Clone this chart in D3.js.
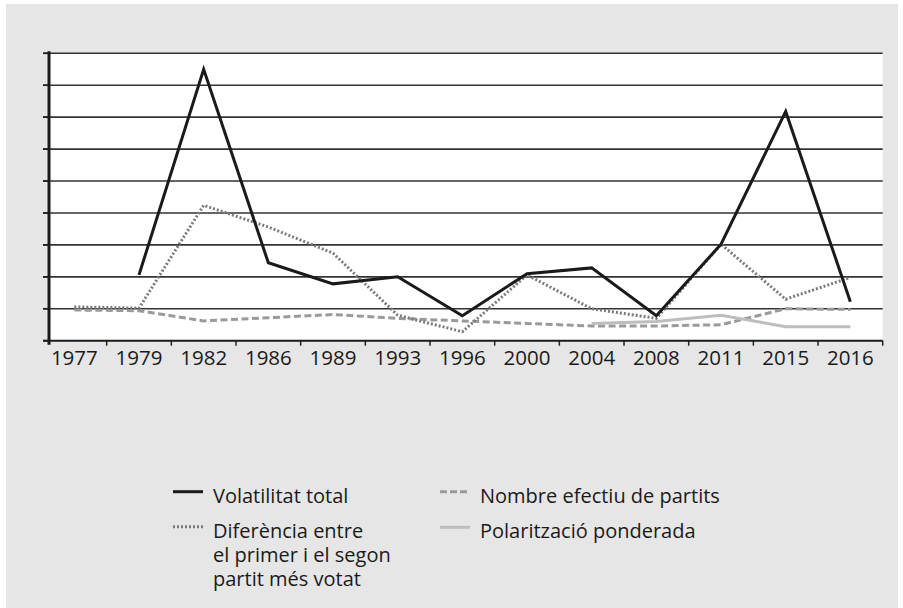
<!DOCTYPE html>
<html>
<head>
<meta charset="utf-8">
<script src="https://cdn.jsdelivr.net/npm/d3@7"></script>
<style>
  body { margin: 0; background: #fff; }
  text { font-family: "Open Sans", sans-serif; fill: #1a1a1a; }
</style>
</head>
<body>
<div id="chart"></div>
<script>
// data
const years = ["1977", "1979", "1982", "1986", "1989", "1993", "1996", "2000", "2004", "2008", "2011", "2015", "2016"];
const volatilitat = [null, 10.3, 42.5, 12.2, 8.9, 10.0, 3.9, 10.5, 11.4, 3.9, 15.1, 35.9, 6.1];
const diferencia = [5.3, 5.1, 21.2, 17.8, 13.7, 4.0, 1.4, 10.3, 5.0, 3.5, 15.1, 6.5, 9.9];
const nombreEfectiu = [4.8, 4.7, 3.1, 3.6, 4.1, 3.5, 3.1, 2.7, 2.3, 2.3, 2.5, 5.0, 4.9];
const polaritzacio = [null, null, null, null, null, null, null, null, 2.7, 3.0, 4.0, 2.2, 2.2];
const gridValues = [0, 5, 10, 15, 20, 25, 30, 35, 40, 45];

//set dimensions
const width = 903,
    height = 608;

const svg = d3.select("#chart")
    .append("svg")
    .attr("width", width)
    .attr("height", height);

// grey panel
svg.append("rect")
    .attr("x", 6).attr("y", 4)
    .attr("width", 892).attr("height", 604)
    .attr("fill", "#e6e6e6");

// scales
const xScale = d3.scaleBand()
    .domain(years)
    .range([42, 882.7]);

const yScale = d3.scaleLinear()
    .domain([0, 45])
    .range([340.7, 53.3]);

const axisX = 49;

// plot background
svg.append("rect")
    .attr("x", axisX)
    .attr("y", yScale(45))
    .attr("width", 882.7 - axisX)
    .attr("height", yScale(0) - yScale(45))
    .attr("fill", "#fff");

// gridlines
svg.append("g")
    .selectAll("line")
    .data(gridValues.slice(1))
    .enter()
    .append("line")
    .attr("x1", 43)
    .attr("x2", 882.7)
    .attr("y1", d => yScale(d))
    .attr("y2", d => yScale(d))
    .attr("stroke", "#333")
    .attr("stroke-width", 1.6);

// x axis
const xAxis = d3.axisBottom(xScale)
    .tickSize(0)
    .tickPadding(0);
const gx = svg.append("g")
    .attr("transform", "translate(0," + yScale(0) + ")")
    .call(xAxis);
gx.select(".domain").remove();
gx.selectAll("text")
    .attr("y", 24)
    .attr("dy", 0)
    .style("font-size", "20.5px")
    .attr("fill", "#1a1a1a");

// tick marks between categories
gx.append("g")
    .selectAll("line")
    .data(years.slice(1).concat(["end"]))
    .enter()
    .append("line")
    .attr("x1", d => d === "end" ? xScale.range()[1] : xScale(d))
    .attr("x2", d => d === "end" ? xScale.range()[1] : xScale(d))
    .attr("y1", 0)
    .attr("y2", 5)
    .attr("stroke", "#222")
    .attr("stroke-width", 1.5);

svg.append("line")
    .attr("x1", 43).attr("x2", 882.7)
    .attr("y1", yScale(0)).attr("y2", yScale(0))
    .attr("stroke", "#1a1a1a")
    .attr("stroke-width", 2);

// y axis
svg.append("g")
    .selectAll("line")
    .data(gridValues)
    .enter()
    .append("line")
    .attr("x1", 43)
    .attr("x2", axisX)
    .attr("y1", d => yScale(d))
    .attr("y2", d => yScale(d))
    .attr("stroke", "#1a1a1a")
    .attr("stroke-width", 1.6);

svg.append("line")
    .attr("x1", axisX).attr("x2", axisX)
    .attr("y1", yScale(45) - 2).attr("y2", yScale(0) + 4)
    .attr("stroke", "#1a1a1a")
    .attr("stroke-width", 3);

// series
const series = [
    { values: nombreEfectiu, color: "#9a9a9a", dash: "7,3.5" },
    { values: polaritzacio, color: "#bdbdbd", dash: null },
    { values: diferencia, color: "#7a7a7a", dash: "2,2" },
    { values: volatilitat, color: "#1a1a1a", dash: null }
];

const line = d3.line()
    .defined(d => d.v !== null)
    .x(d => xScale(d.year) + xScale.bandwidth() / 2)
    .y(d => yScale(d.v));

series.forEach(s => {
    svg.append("path")
        .datum(years.map((y, i) => ({ year: y, v: s.values[i] })))
        .attr("d", line)
        .attr("fill", "none")
        .attr("stroke", s.color)
        .attr("stroke-width", 3)
        .attr("stroke-dasharray", s.dash);
});

// legend
const legendItems = [
    { lines: ["Volatilitat total"], color: "#1a1a1a", dash: null, x: 173, y: 491.7, len: 30 },
    { lines: ["Diferència entre", "el primer i el segon", "partit més votat"], color: "#7a7a7a", dash: "2,2", x: 173, y: 526.7, len: 30 },
    { lines: ["Nombre efectiu de partits"], color: "#9a9a9a", dash: "7,3", x: 440, y: 491.7, len: 27 },
    { lines: ["Polarització ponderada"], color: "#bdbdbd", dash: null, x: 440, y: 527.3, len: 30 }
];

const legend = svg.append("g").attr("id", "legend");
legendItems.forEach(item => {
    legend.append("line")
        .attr("x1", item.x).attr("x2", item.x + item.len)
        .attr("y1", item.y).attr("y2", item.y)
        .attr("stroke", item.color)
        .attr("stroke-width", 3)
        .attr("stroke-dasharray", item.dash);
    item.lines.forEach((l, i) => {
        legend.append("text")
            .attr("x", item.x + 40)
            .attr("y", item.y + 11 + i * 24)
            .style("font-size", "20px")
            .text(l);
    });
});
</script>
</body>
</html>
